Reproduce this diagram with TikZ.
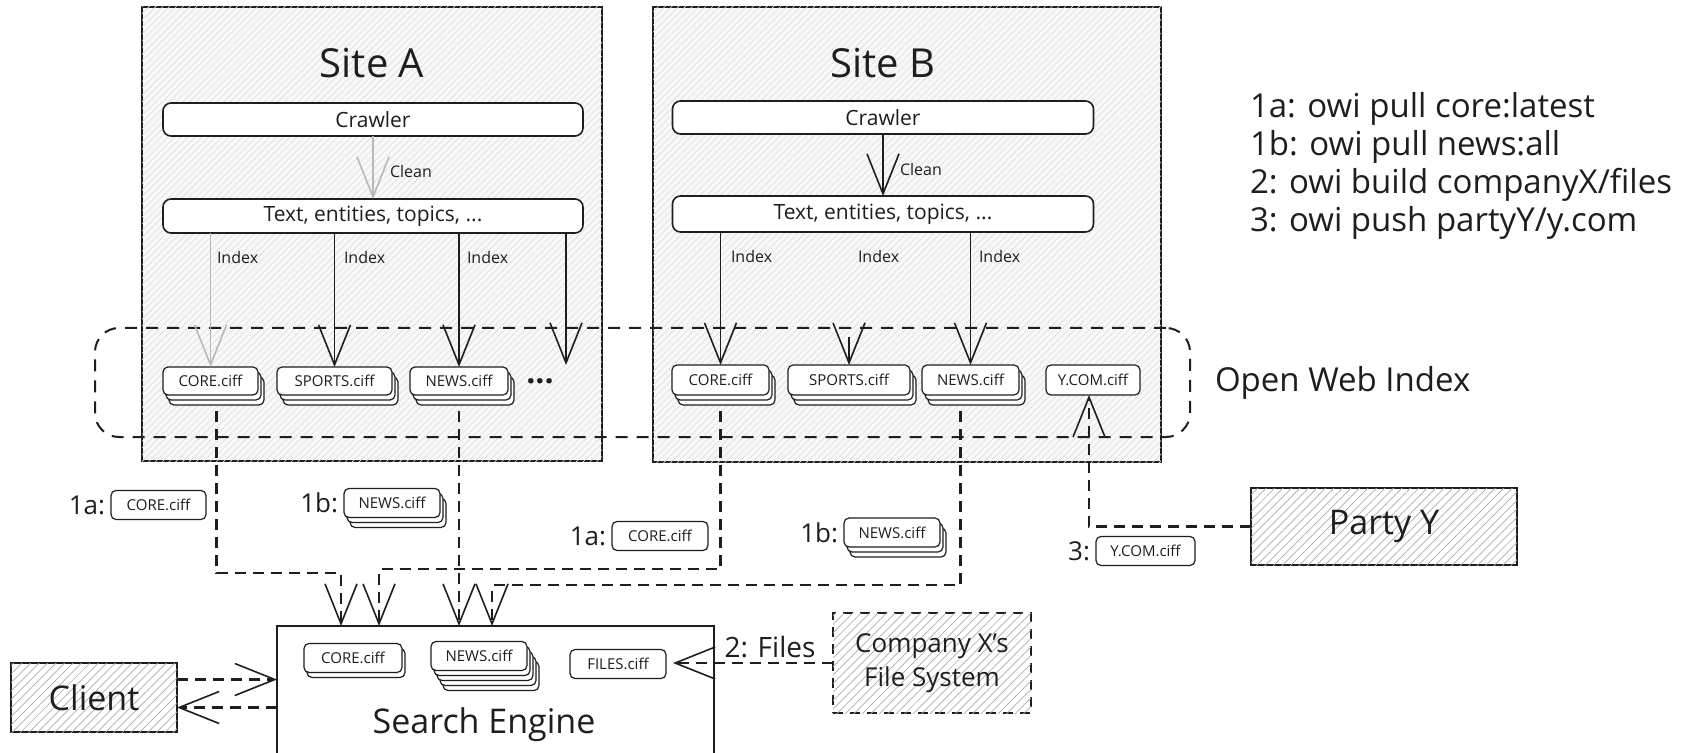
\documentclass[tikz,border=0pt]{standalone}
\usepackage{fontspec}
\setmainfont{Open Sans}
\usetikzlibrary{arrows.meta,positioning,patterns.meta,shadows}
\definecolor{webInk}{HTML}{1E1E1E}
\definecolor{webFaint}{HTML}{B8B8B8}
\definecolor{webHatch}{HTML}{DCDCDC}
\definecolor{webShade}{HTML}{F8F8F8}
\definecolor{webStripe}{HTML}{ABABAB}
\tikzset{
  web diagram/.style={
    x=0.5pt, y=-0.5pt, line width=0.8pt, draw=webInk,
    >={Straight Barb[length=20pt,width=16pt,line width=0.8pt]},
    every node/.style={text=webInk, inner sep=0pt, outer sep=0pt}
  },
  web site/.style={rectangle, draw=webInk, line width=0.9pt, fill=webShade,
    postaction={pattern={Lines[angle=45,distance=2.4pt,line width=0.3pt]},
      pattern color=webHatch}},
  web title/.style={font=\fontsize{20}{24}\selectfont},
  web stage/.style={rectangle, rounded corners=4pt, draw=webInk, fill=white,
    line width=0.8pt, minimum width=210pt,
    font=\fontsize{10.5}{12.6}\selectfont},
  web file/.style={rectangle, rounded corners=2.5pt, draw=webInk, fill=white,
    line width=0.6pt, minimum height=14.5pt,
    font=\fontsize{7.5}{9}\selectfont},
  stack one/.style={copy shadow={shadow xshift=1.5pt, shadow yshift=-2.5pt,
    draw=webInk, fill=white}},
  stack two/.style={copy shadow={shadow xshift=3pt, shadow yshift=-5pt,
    draw=webInk, fill=white}, stack one},
  stack four/.style={copy shadow={shadow xshift=6pt, shadow yshift=-10pt,
    draw=webInk, fill=white},
    copy shadow={shadow xshift=4.5pt, shadow yshift=-7.5pt,
    draw=webInk, fill=white}, stack two},
  web note/.style={font=\fontsize{8}{9.6}\selectfont},
  web tag/.style={font=\fontsize{13}{15.6}\selectfont},
  web big/.style={font=\fontsize{16.5}{19}\selectfont},
  web actor/.style={rectangle, draw=webInk, fill=white, line width=0.8pt,
    postaction={pattern={Lines[angle=45,distance=3pt,line width=0.35pt]},
      pattern color=webStripe},
    font=\fontsize{17}{20.4}\selectfont},
  web plain/.style={rectangle, draw=webInk, fill=white, line width=0.8pt},
  web group/.style={draw=webInk, line width=1pt, rounded corners=12pt,
    dash pattern=on 6pt off 4.5pt},
  web flow/.style={->, draw=webInk, line width=0.8pt},
  web faint/.style={->, draw=webFaint, line width=0.8pt},
  web link/.style={->, draw=webInk, line width=1.4pt,
    dash pattern=on 5.5pt off 3.5pt}
}

\begin{document}
\begin{tikzpicture}[web diagram]
  \useasboundingbox (0,0) rectangle (1701,753);
  \clip (0,0) rectangle (1701,753);
  \fill[white] (0,0) rectangle (1701,753);

  % the two sites
  \node[web site, minimum width=230pt, minimum height=227pt] (siteA) at (372,234) {};
  \node[web site, minimum width=254pt, minimum height=227.5pt] (siteB) at (907,234.5) {};
  \node[web title] (titleA) at (372,63) {Site A};
  \node[web title] (titleB) at (883,63) {Site B};

  \node[web stage, minimum height=16.5pt] (crawlA) at (373,119.5) {Crawler};
  \node[web stage, minimum height=17pt] (textA) at (373,216) {Text, entities, topics, ...};
  \node[web stage, minimum width=210.5pt, minimum height=16.5pt] (crawlB) at (883,117.5) {Crawler};
  \node[web stage, minimum width=210.5pt, minimum height=18pt] (textB) at (883,214) {Text, entities, topics, ...};

  % open web index
  \node[web group, minimum width=547.5pt, minimum height=54.5pt] (owi) at (642.5,382.5) {};
  \node[web big, right=12.5pt of owi] (owiName) {Open Web Index};

  \node[web file, stack two, minimum width=47.5pt, minimum height=14pt] (coreA) at (210.5,381) {CORE.ciff};
  \node[web file, stack two, minimum width=57.5pt, minimum height=14pt] (sportsA) at (334.5,381) {SPORTS.ciff};
  \node[web file, stack two, minimum width=49pt, minimum height=14pt] (newsA) at (459,381) {NEWS.ciff};
  \node[font=\fontsize{16}{18}\selectfont\bfseries] (moreA) at (540,381) {...};
  \coordinate (moreTip) at (566,365);

  \node[web file, stack two, minimum width=48.5pt, minimum height=15pt] (coreB) at (720.5,380) {CORE.ciff};
  \node[web file, stack two, minimum width=61pt, minimum height=15pt] (sportsB) at (849,380) {SPORTS.ciff};
  \node[web file, stack two, minimum width=48.5pt, minimum height=15pt] (newsB) at (970.5,380) {NEWS.ciff};
  \node[web file, minimum width=47pt, minimum height=15pt] (ycom) at (1093,380) {Y.COM.ciff};

  % crawl, clean, index
  \draw[web faint] (crawlA) -- (textA);
  \node[web note, anchor=west] (cleanA) at (390,172) {Clean};
  \draw[web flow] (crawlB) -- (textB);
  \node[web note, anchor=west] (cleanB) at (900,170) {Clean};

  \draw[web faint] (coreA.north |- textA.south) -- (coreA.north);
  \draw[web flow] (sportsA.north |- textA.south) -- (sportsA.north);
  \draw[web flow] (newsA.north |- textA.south) -- (newsA.north);
  \draw[web flow] (moreTip |- textA.south) -- (moreTip);
  \node[web note, anchor=west] (idxA1) at (217,258) {Index};
  \node[web note, anchor=west] (idxA2) at (344,258) {Index};
  \node[web note, anchor=west] (idxA3) at (467,258) {Index};

  \draw[web flow] (coreB.north |- textB.south) -- (coreB.north);
  \draw[web flow] ([yshift=14pt]sportsB.north) -- (sportsB.north);
  \draw[web flow] (newsB.north |- textB.south) -- (newsB.north);
  \node[web note, anchor=west] (idxB1) at (731,257) {Index};
  \node[web note, anchor=west] (idxB2) at (858,257) {Index};
  \node[web note, anchor=west] (idxB3) at (979,257) {Index};

  % commands
  \node[web big, anchor=west, align=left] (legend) at (1250,166)
    {1a: owi pull core:latest\\1b: owi pull news:all\\2: owi build companyX/files\\3: owi push partyY/y.com};

  % consumers and producers
  \node[web actor, minimum width=133pt, minimum height=38.5pt] (partyY) at (1384,526.5) {Party Y};
  \node[web actor, minimum width=83pt, minimum height=34.5pt] (client) at (94,697.5) {Client};
  \node[web actor, dash pattern=on 5pt off 3.5pt, minimum width=99pt, minimum height=50pt,
    align=center, font=\fontsize{13}{17}\selectfont] (companyX) at (932,663) {Company X's\\File System};

  \node[web plain, minimum width=218.5pt, minimum height=74pt] (engine) at (495.5,700) {};
  \node[font=\fontsize{17}{20.4}\selectfont] (engineName) at (484,725) {Search Engine};
  \node[web file, stack one, minimum width=49pt] (seCore) at (353,658) {CORE.ciff};
  \node[web file, stack four, minimum width=48pt] (seNews) at (479,656) {NEWS.ciff};
  \node[web file, minimum width=48pt] (seFiles) at (618,664) {FILES.ciff};

  % pulled and pushed files
  \node[web file, minimum width=47.5pt] (pullCoreA) at (158.5,505) {CORE.ciff};
  \node[web tag, left=3pt of pullCoreA] (stepA1) {1a:};
  \node[web file, stack two, minimum width=48pt] (pullNewsA) at (392,503) {NEWS.ciff};
  \node[web tag, left=3pt of pullNewsA] (stepA2) {1b:};
  \node[web file, minimum width=48pt] (pullCoreB) at (660,536) {CORE.ciff};
  \node[web tag, left=3pt of pullCoreB] (stepB1) {1a:};
  \node[web file, stack two, minimum width=48pt] (pullNewsB) at (892,532.5) {NEWS.ciff};
  \node[web tag, left=3pt of pullNewsB] (stepB2) {1b:};
  \node[web file, minimum width=49.5pt] (pushYcom) at (1145.5,551) {Y.COM.ciff};
  \node[web tag, left=3pt of pushYcom] (step3) {3:};
  \node[font=\fontsize{14}{16.8}\selectfont] (filesTag) at (770,647) {2: Files};

  \coordinate (turnA) at (341,573);
  \coordinate (turnB) at (379,569);
  \coordinate (turnC) at (492,585);
  \draw[web link] ([xshift=3pt,yshift=-8pt]coreA.south) |- (turnA) -- (turnA |- engine.north);
  \draw[web link] ([yshift=-8pt]newsA.south) -- (newsA.south |- engine.north);
  \draw[web link] ([yshift=-8pt]coreB.south) |- (turnB) -- (turnB |- engine.north);
  \draw[web link] ([xshift=-5pt,yshift=-8pt]newsB.south) |- (turnC) -- (turnC |- engine.north);
  \draw[web link] (partyY.west) -| ([xshift=-2pt]ycom.south);
  \draw[web link] (companyX.west) -- ([xshift=3.5pt]seFiles.east |- companyX.west);
  \draw[web link] ([yshift=9pt]client.east) -- ([yshift=9pt]client.east -| engine.west);
  \draw[web link] ([yshift=-5pt]client.east -| engine.west) -- ([yshift=-5pt]client.east);
\end{tikzpicture}
\end{document}
